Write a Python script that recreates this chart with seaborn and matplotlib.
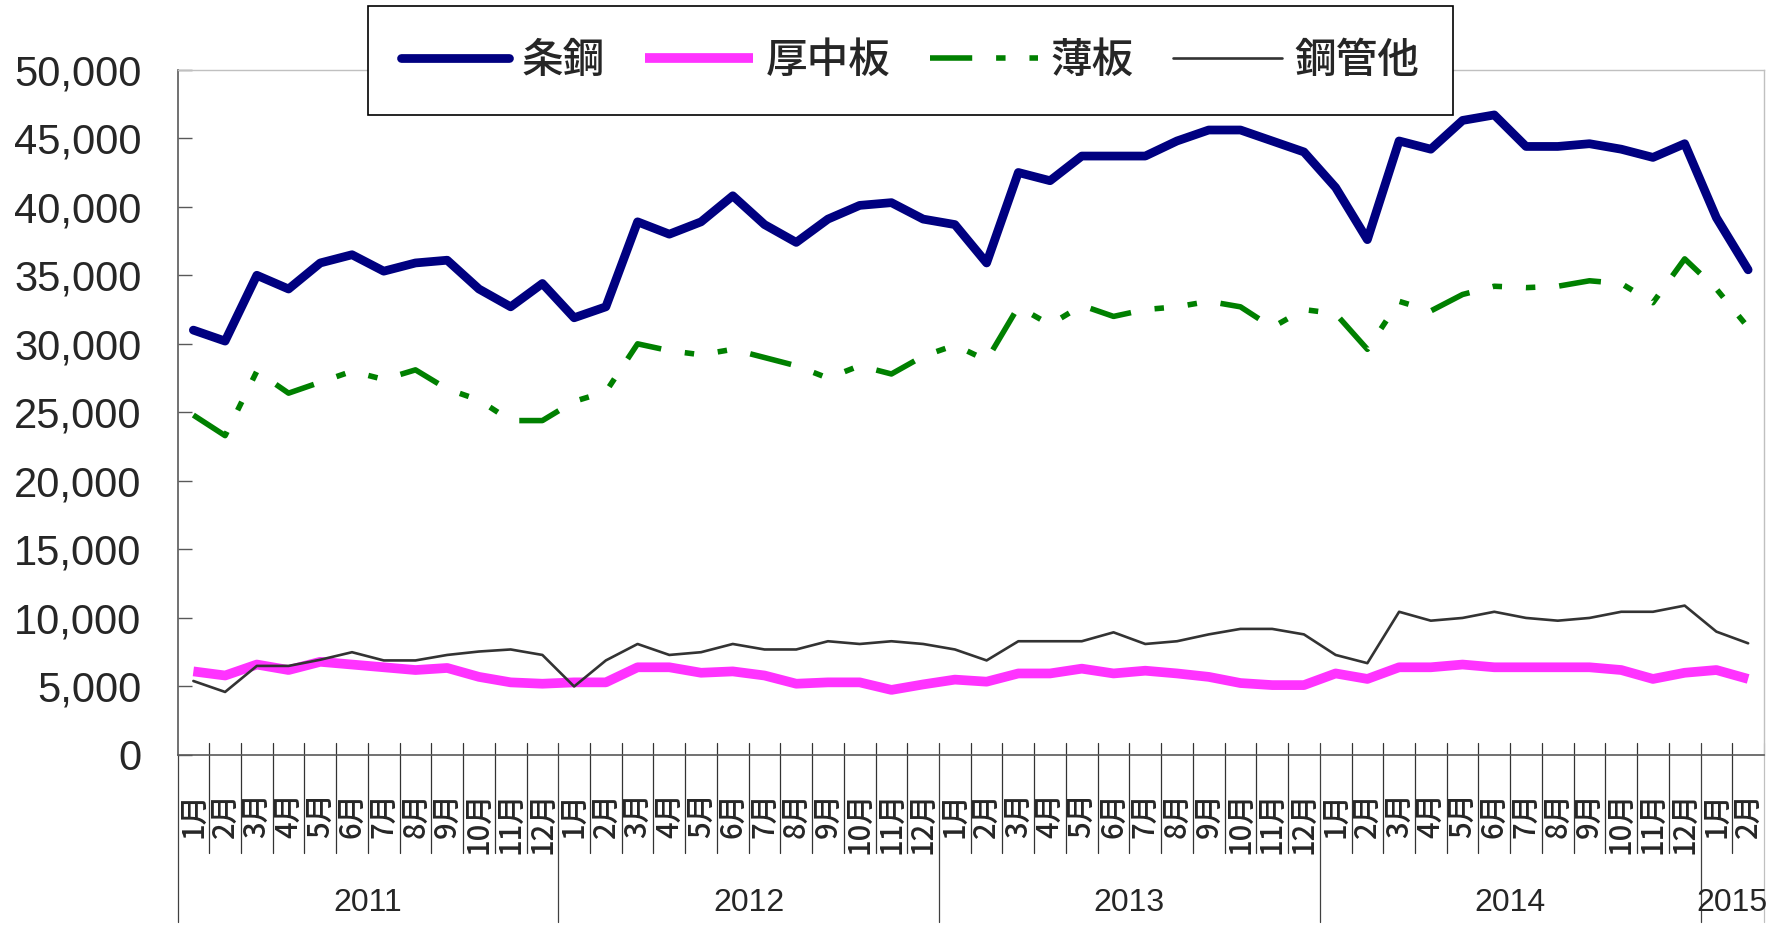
import numpy as np
import pandas as pd
import matplotlib
matplotlib.use("Agg")
import matplotlib.pyplot as plt
import matplotlib.transforms as mtransforms
from matplotlib.ticker import FuncFormatter
import seaborn as sns

# ---------------- data ----------------
years = ["2011", "2012", "2013", "2014", "2015"]
months_per_year = [12, 12, 12, 12, 2]
month_labels = [f"{m}月" for n in months_per_year for m in range(1, n + 1)]

series_names = ["条鋼", "厚中板", "薄板", "鋼管他"]

bars_steel = [31000, 30200, 35000, 34000, 35900, 36500, 35300, 35900, 36100, 34000,
              32700, 34400, 31900, 32700, 38900, 38000, 38900, 40800, 38700, 37400,
              39100, 40100, 40300, 39100, 38700, 35900, 42500, 41900, 43700, 43700,
              43700, 44800, 45600, 45600, 44800, 44000, 41400, 37600, 44800, 44200,
              46300, 46700, 44400, 44400, 44600, 44200, 43600, 44600, 39200, 35400]

heavy_plate = [6100, 5800, 6600, 6200, 6800, 6600, 6400, 6200, 6350, 5700,
               5300, 5200, 5300, 5300, 6400, 6400, 6000, 6100, 5800, 5200,
               5300, 5300, 4750, 5150, 5500, 5350, 5950, 5950, 6300, 5950,
               6150, 5950, 5700, 5250, 5100, 5100, 5950, 5550, 6400, 6400,
               6600, 6400, 6400, 6400, 6400, 6200, 5550, 6000, 6200, 5550]

thin_sheet = [24800, 23300, 28000, 26400, 27200, 28000, 27400, 28100, 26700, 25900,
              24400, 24400, 25800, 26500, 30000, 29500, 29200, 29600, 29000, 28400,
              27500, 28400, 27800, 29100, 29900, 28800, 32700, 31400, 32800, 32000,
              32500, 32700, 33100, 32700, 31200, 32500, 32200, 29600, 33100, 32400,
              33600, 34200, 34100, 34200, 34600, 34400, 33000, 36200, 34000, 31200]

pipes_other = [5400, 4600, 6500, 6500, 6950, 7500, 6900, 6900, 7300, 7550,
               7700, 7300, 5000, 6900, 8100, 7300, 7500, 8100, 7700, 7700,
               8300, 8100, 8300, 8100, 7700, 6900, 8300, 8300, 8300, 8950,
               8100, 8300, 8800, 9200, 9200, 8800, 7300, 6700, 10450, 9800,
               10000, 10450, 10000, 9800, 10000, 10450, 10450, 10900, 9000, 8150]

y_ticks = list(range(0, 50001, 5000))

# ---------------- figure ----------------
sns.set_style("white")
plt.rcParams["font.family"] = ["Liberation Sans", "Noto Sans CJK JP", "DejaVu Sans"]

W, H = 1778, 930
fig = plt.figure(figsize=(W / 100, H / 100), dpi=100)
ax_left, ax_right, ax_top, ax_bot = 177.5, 1764, 69.7, 755
ax = fig.add_axes([ax_left / W, 1 - ax_bot / H, (ax_right - ax_left) / W, (ax_bot - ax_top) / H])

n = len(month_labels)
x = np.arange(n)
df = pd.DataFrame({"x": x, "条鋼": bars_steel, "厚中板": heavy_plate,
                   "薄板": thin_sheet, "鋼管他": pipes_other})

styles = {
    "条鋼": dict(color="#000080", lw=6.3, solid_capstyle="round", solid_joinstyle="round"),
    "厚中板": dict(color="#FF33FF", lw=7.0, solid_capstyle="butt"),
    "薄板": dict(color="#008000", lw=4.0, linestyle=(0, (7.6, 4.3, 1.7, 4.3, 1.7, 4.3)),
               dash_capstyle="butt"),
    "鋼管他": dict(color="#333333", lw=1.9),
}
for name in series_names:
    sns.lineplot(data=df, x="x", y=name, ax=ax, label=name, **styles[name])

if ax.get_legend() is not None:
    ax.get_legend().remove()

ax.set_xlim(-0.5, n - 0.5)
ax.set_ylim(0, 50000)
ax.set_xlabel("")
ax.set_ylabel("")

# y axis
ax.set_yticks(y_ticks)
ax.yaxis.set_major_formatter(FuncFormatter(lambda v, p: f"{int(v):,}"))
ax.tick_params(axis="y", direction="in", length=10, width=1.0, color="#595959",
               labelsize=30, pad=26, left=True)
for lab in ax.get_yticklabels():
    lab.set_fontfamily(["Liberation Sans", "DejaVu Sans"])

# x axis month labels
ax.set_xticks(x)
ax.set_xticklabels(month_labels, rotation=90, fontsize=21, fontweight="medium",
                   fontfamily=["Noto Sans CJK JP", "DejaVu Sans"])
ax.tick_params(axis="x", length=0, pad=26.5, bottom=True)

# spines
for s in ["left", "bottom"]:
    ax.spines[s].set_color("#595959")
    ax.spines[s].set_linewidth(1.2)
for s in ["top", "right"]:
    ax.spines[s].set_color("#c0c0c0")
    ax.spines[s].set_linewidth(1.0)
ax.grid(False)

# category separators and year labels
trans = mtransforms.blended_transform_factory(ax.transData, ax.transAxes)
span = ax_bot - ax_top
y_up = (ax_bot - 743) / span
y_month = -(853 - ax_bot) / span
y_year = -(922 - ax_bot) / span
year_starts = np.cumsum([0] + months_per_year)
for k in range(n + 1):
    is_year = k in year_starts
    y_end = y_year if is_year else y_month
    col = "#c0c0c0" if k == n else ("#404040" if is_year else "#333333")
    ax.plot([k - 0.5, k - 0.5], [y_up if k != 0 else 0, y_end], transform=trans,
            color=col, lw=0.9, clip_on=False, zorder=1)

y_lab = -(903 - ax_bot) / span
for yr, s, m in zip(years, year_starts[:-1], months_per_year):
    ax.text(s - 0.5 + m / 2, y_lab, yr, transform=trans, ha="center", va="center",
            fontsize=23, fontfamily=["Liberation Sans", "DejaVu Sans"])

# legend
handles, labels = ax.get_legend_handles_labels()
leg = fig.legend(handles, labels, loc="center", ncol=4,
                 bbox_to_anchor=((374 + 1446) / 2 / W, 1 - (8 + 113) / 2 / H),
                 prop={"family": ["Noto Sans CJK JP", "DejaVu Sans"], "size": 30,
                       "weight": "medium"},
                 frameon=True, fancybox=False, shadow=False, framealpha=1,
                 edgecolor="black", handlelength=2.6, handletextpad=0.3,
                 columnspacing=0.95, borderpad=0.8)
leg.get_frame().set_linewidth(1.2)
leg.set_zorder(10)

fig.savefig("out.png", dpi=100, facecolor="white")
